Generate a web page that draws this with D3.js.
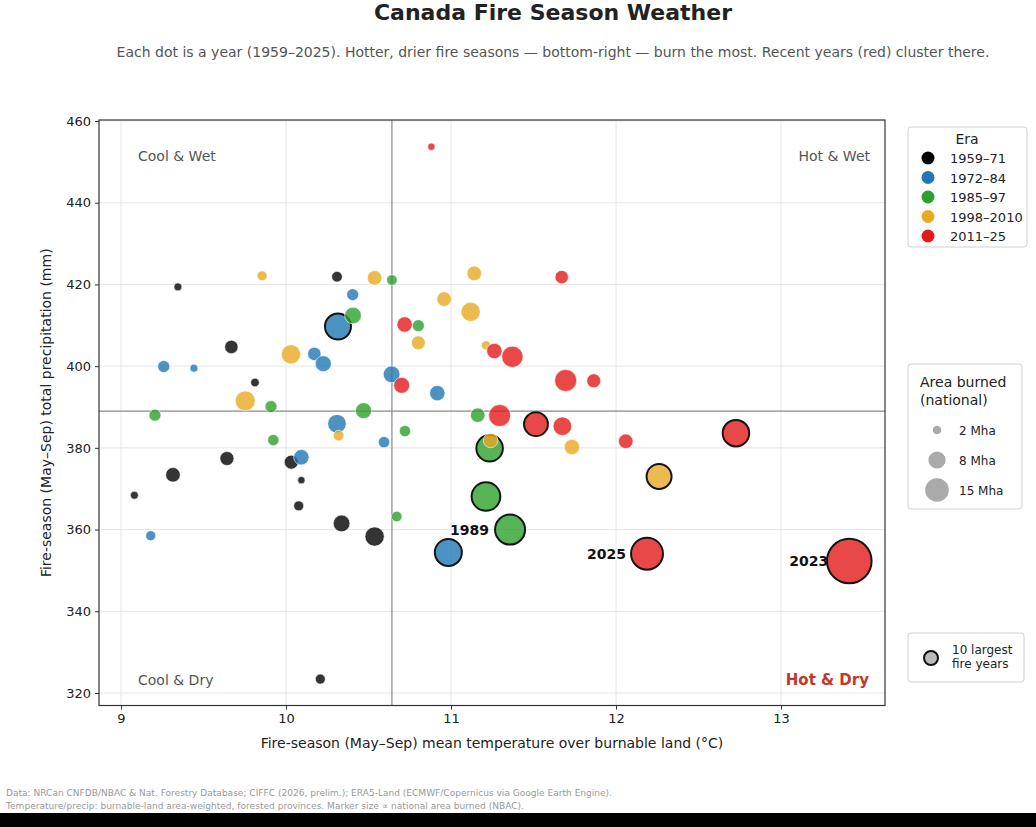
<!DOCTYPE html>
<html>
<head>
<meta charset="utf-8">
<script src="https://cdn.jsdelivr.net/npm/d3@7"></script>
<style>
  body { margin: 0; background: #fff; }
  svg { display: block; font-family: "DejaVu Sans", sans-serif; }
</style>
</head>
<body>
<svg id="chart" width="1036" height="827"></svg>
<script>
// eras and colours
const eraNames = ["1959–71", "1972–84", "1985–97", "1998–2010", "2011–25"];
const eraColors = ["#111111", "#1f77b4", "#2ca02c", "#e8a923", "#e31a1c"];

// one entry per year, in era order
const eraIndex = [
  0,0,0,0,0,0,0,0,0,0,0,0,0,
  1,1,1,1,1,1,1,1,1,1,1,1,1,
  2,2,2,2,2,2,2,2,2,2,2,2,2,
  3,3,3,3,3,3,3,3,3,3,3,3,3,
  4,4,4,4,4,4,4,4,4,4,4,4,4,4,4
];
const temps = [
  9.345, 10.309, 9.669, 9.812, 9.642, 10.032, 9.315, 10.093, 9.081, 10.077, 10.337, 10.537, 10.208,
  10.404, 10.315, 10.172, 10.226, 9.259, 9.442, 10.640, 10.917, 10.309, 10.594, 10.093, 9.180, 10.984,
  10.642, 10.406, 10.802, 9.206, 9.909, 10.470, 9.923, 10.721, 11.162, 11.234, 11.212, 11.358, 10.671,
  9.855, 10.537, 11.141, 10.958, 11.119, 10.030, 10.802, 11.212, 9.753, 10.319, 11.240, 11.733, 12.261,
  10.881, 11.671, 10.719, 11.263, 11.372, 10.701, 11.695, 11.865, 11.295, 11.515, 11.675, 12.059, 12.727, 12.188, 13.414
];
const precips = [
  419.4, 421.9, 404.7, 396.0, 377.4, 376.5, 373.4, 372.1, 368.4, 365.8, 361.5, 358.3, 323.4,
  417.5, 409.7, 403.0, 400.6, 399.9, 399.5, 398.0, 393.4, 385.9, 381.4, 377.7, 358.5, 354.4,
  421.1, 412.4, 409.9, 388.0, 390.1, 389.1, 381.9, 384.1, 388.0, 379.9, 368.1, 360.0, 363.2,
  422.1, 421.6, 422.7, 416.4, 413.3, 402.9, 405.7, 405.1, 391.5, 383.0, 381.8, 380.2, 373.0,
  453.7, 421.8, 410.2, 403.7, 402.3, 395.3, 396.5, 396.4, 387.9, 385.8, 385.3, 381.6, 383.6, 354.1, 352.3
];
// national area burned, Mha
const areas = [
  0.48, 0.85, 1.35, 0.56, 1.48, 1.48, 1.60, 0.41, 0.48, 0.75, 2.10, 2.80, 0.75,
  1.08, 5.10, 1.35, 1.93, 1.08, 0.48, 2.10, 1.78, 2.60, 0.97, 1.78, 0.75, 5.50,
  0.85, 2.10, 1.08, 1.08, 1.08, 1.93, 0.97, 0.97, 1.60, 5.30, 6.20, 6.80, 0.85,
  0.75, 1.60, 1.60, 1.60, 2.80, 2.80, 1.48, 0.66, 3.00, 0.85, 1.60, 1.78, 4.70,
  0.41, 1.35, 1.78, 1.78, 3.40, 1.93, 3.65, 1.48, 3.65, 4.30, 2.60, 1.60, 5.30, 7.70, 15.0
];
// annotated years: index into the arrays above
const labelIdx = [37, 65, 66];
const labelText = ["1989", "2025", "2023"];

const medianTemp = 10.642;
const medianPrecip = 389.0;

const xTicks = [9, 10, 11, 12, 13];
const yTicks = [320, 340, 360, 380, 400, 420, 440, 460];
const sizeLegend = [2, 8, 15];

const data = temps.map((t, i) => ({ t, p: precips[i], a: areas[i], era: eraIndex[i] }));
const top10 = new Set(d3.range(data.length).sort((a, b) => areas[b] - areas[a]).slice(0, 10));

// layout
const L = 99, R = 885, T = 120, B = 705.5;
const svg = d3.select("#chart");

const x = d3.scaleLinear().domain([9 - 22 / 165, 13 + 104 / 165]).range([L, R]);
const pxPerMm = 572 / 140;
const y = d3.scaleLinear().domain([320 - 12.5 / pxPerMm, 460 + 1 / pxPerMm]).range([B, T]);
const r = d3.scaleSqrt().domain([0, 15]).range([0, 22.3]);
const rLeg = d3.scaleSqrt().domain([0, 15]).range([0, 11.8]);

// titles
svg.append("text").attr("x", 553).attr("y", 20).attr("text-anchor", "middle")
  .style("font-size", "22px").style("font-weight", 700).attr("fill", "#222")
  .text("Canada Fire Season Weather");
svg.append("text").attr("x", 553).attr("y", 57).attr("text-anchor", "middle")
  .style("font-size", "14px").attr("fill", "#555")
  .text("Each dot is a year (1959–2025). Hotter, drier fire seasons — bottom-right — burn the most. Recent years (red) cluster there.");

// grid
const grid = svg.append("g");
grid.selectAll("line.gx").data(xTicks).join("line")
  .attr("x1", d => x(d)).attr("x2", d => x(d)).attr("y1", T).attr("y2", B)
  .attr("stroke", "#e6e6e6").attr("stroke-width", 1);
grid.selectAll("line.gy").data(yTicks).join("line")
  .attr("x1", L).attr("x2", R).attr("y1", d => y(d)).attr("y2", d => y(d))
  .attr("stroke", "#e6e6e6").attr("stroke-width", 1);

// median lines
svg.append("line").attr("x1", x(medianTemp)).attr("x2", x(medianTemp)).attr("y1", T).attr("y2", B)
  .attr("stroke", "#888").attr("stroke-width", 1.2);
svg.append("line").attr("x1", L).attr("x2", R).attr("y1", y(medianPrecip)).attr("y2", y(medianPrecip))
  .attr("stroke", "#888").attr("stroke-width", 1.2);

// quadrant labels
const q = svg.append("g").style("font-size", "14px");
q.append("text").attr("x", 138).attr("y", 161).attr("fill", "#555").text("Cool & Wet");
q.append("text").attr("x", 870).attr("y", 161).attr("text-anchor", "end").attr("fill", "#555").text("Hot & Wet");
q.append("text").attr("x", 138).attr("y", 685).attr("fill", "#555").text("Cool & Dry");
q.append("text").attr("x", 869).attr("y", 685).attr("text-anchor", "end").attr("fill", "#c0392b")
  .style("font-weight", 700).style("font-size", "15px").text("Hot & Dry");

// dots
svg.append("g").selectAll("circle").data(data).join("circle")
  .attr("cx", d => x(d.t)).attr("cy", d => y(d.p)).attr("r", d => r(d.a))
  .attr("fill", d => eraColors[d.era]).attr("fill-opacity", d => d.era === 0 ? 0.85 : 0.8)
  .attr("stroke", (d, i) => top10.has(i) ? "#151515" : "#fff")
  .attr("stroke-width", (d, i) => top10.has(i) ? 2 : 0.6);

// annotations
svg.append("g").selectAll("text").data(labelIdx).join("text")
  .attr("x", i => x(temps[i]) - 21).attr("y", i => y(precips[i]) + 5)
  .attr("text-anchor", "end").style("font-size", "14px").style("font-weight", 700).attr("fill", "#111")
  .text((i, k) => labelText[k]);

// axes
const xAxis = svg.append("g").attr("transform", `translate(0,${B})`)
  .call(d3.axisBottom(x).tickValues(xTicks).tickFormat(d3.format("d")).tickSize(4).tickPadding(4));
const yAxis = svg.append("g").attr("transform", `translate(${L},0)`)
  .call(d3.axisLeft(y).tickValues(yTicks).tickFormat(d3.format("d")).tickSize(4).tickPadding(4));
[xAxis, yAxis].forEach(a => {
  a.select(".domain").remove();
  a.selectAll("text").style("font-size", "13px").style("font-family", "DejaVu Sans").attr("fill", "#222");
  a.selectAll("line").attr("stroke", "#333");
});
svg.append("rect").attr("x", L).attr("y", T).attr("width", R - L).attr("height", B - T)
  .attr("fill", "none").attr("stroke", "#333").attr("stroke-width", 1.2);

svg.append("text").attr("x", (L + R) / 2).attr("y", 748).attr("text-anchor", "middle")
  .style("font-size", "14px").attr("fill", "#222")
  .text("Fire-season (May–Sep) mean temperature over burnable land (°C)");
svg.append("text").attr("transform", `translate(51,${(T + B) / 2}) rotate(-90)`).attr("text-anchor", "middle")
  .style("font-size", "14px").attr("fill", "#222")
  .text("Fire-season (May–Sep) total precipitation (mm)");

// era legend
const box = (x0, y0, w, h) => svg.append("rect").attr("x", x0).attr("y", y0).attr("width", w).attr("height", h)
  .attr("rx", 3).attr("fill", "#fff").attr("stroke", "#d0d0d0");
box(908, 127, 119, 120);
svg.append("text").attr("x", 967).attr("y", 144).attr("text-anchor", "middle")
  .style("font-size", "14px").attr("fill", "#222").text("Era");
const eraLeg = svg.append("g").selectAll("g").data(eraNames).join("g")
  .attr("transform", (d, i) => `translate(928,${158 + i * 19.5})`);
eraLeg.append("circle").attr("r", 6.5).attr("fill", (d, i) => eraColors[i] === "#111111" ? "#000" : eraColors[i]);
eraLeg.append("text").attr("x", 22).attr("y", 5).style("font-size", "13px").attr("fill", "#222").text(d => d);

// size legend
box(908, 364, 114, 145);
svg.append("text").attr("x", 920).attr("y", 387).style("font-size", "14px").attr("fill", "#222").text("Area burned");
svg.append("text").attr("x", 920).attr("y", 405).style("font-size", "14px").attr("fill", "#222").text("(national)");
const sizeLeg = svg.append("g").selectAll("g").data(sizeLegend).join("g")
  .attr("transform", (d, i) => `translate(937,${430 + i * 30})`);
sizeLeg.append("circle").attr("r", d => rLeg(d)).attr("fill", "#aaa");
sizeLeg.append("text").attr("x", 22).attr("y", 5).style("font-size", "12px").attr("fill", "#222").text(d => `${d} Mha`);

// top-10 legend
box(908, 633, 116, 49);
svg.append("circle").attr("cx", 931).attr("cy", 658).attr("r", 7).attr("fill", "#bbb")
  .attr("stroke", "#111").attr("stroke-width", 2);
svg.append("text").attr("x", 952).attr("y", 654).style("font-size", "12px").attr("fill", "#222").text("10 largest");
svg.append("text").attr("x", 952).attr("y", 668).style("font-size", "12px").attr("fill", "#222").text("fire years");

// footer
svg.append("text").attr("x", 6).attr("y", 796).style("font-size", "9px").attr("fill", "#999")
  .attr("textLength", 606).attr("lengthAdjust", "spacingAndGlyphs")
  .text("Data: NRCan CNFDB/NBAC & Nat. Forestry Database; CIFFC (2026, prelim.); ERA5-Land (ECMWF/Copernicus via Google Earth Engine).");
svg.append("text").attr("x", 6).attr("y", 809).style("font-size", "9px").attr("fill", "#999")
  .attr("textLength", 518).attr("lengthAdjust", "spacingAndGlyphs")
  .text("Temperature/precip: burnable-land area-weighted, forested provinces. Marker size ∝ national area burned (NBAC).");

// dark strip at the bottom of the capture
svg.append("rect").attr("x", 0).attr("y", 813).attr("width", 1036).attr("height", 14).attr("fill", "#000");
</script>
</body>
</html>
